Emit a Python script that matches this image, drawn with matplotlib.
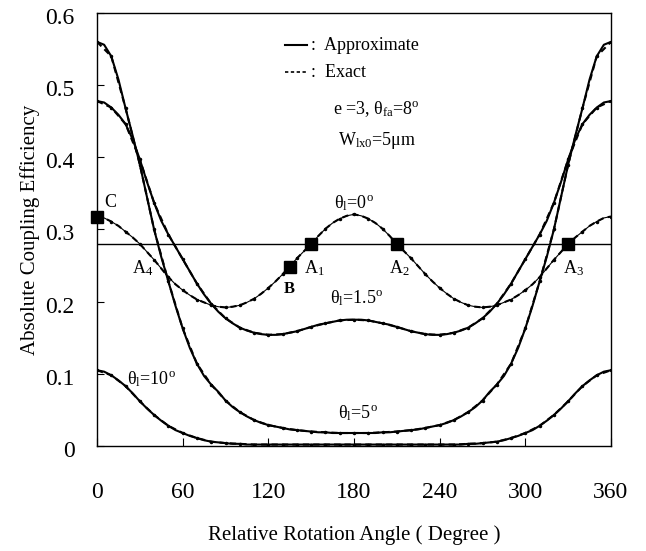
import matplotlib
matplotlib.use("Agg")
import matplotlib.pyplot as plt
from matplotlib.transforms import ScaledTranslation

plt.rcParams['font.family'] = ['Liberation Serif', 'DejaVu Serif']
plt.rcParams['mathtext.fontset'] = 'custom'
plt.rcParams['mathtext.rm'] = 'Liberation Serif'
plt.rcParams['mathtext.it'] = 'Liberation Serif:italic'

# ---- data (5 degree steps) ----
angle = [0, 5, 10, 15, 20, 25, 30, 35, 40, 45, 50, 55, 60, 65, 70, 75, 80, 85, 90,
         95, 100, 105, 110, 115, 120, 125, 130, 135, 140, 145, 150, 155, 160, 165, 170, 175, 180,
         185, 190, 195, 200, 205, 210, 215, 220, 225, 230, 235, 240, 245, 250, 255, 260, 265, 270,
         275, 280, 285, 290, 295, 300, 305, 310, 315, 320, 325, 330, 335, 340, 345, 350, 355, 360]

theta0 = [0.318, 0.316, 0.311, 0.305, 0.297, 0.289, 0.280, 0.269, 0.258, 0.246, 0.234, 0.224, 0.216,
          0.209, 0.203, 0.199, 0.195, 0.193, 0.192,
          0.193, 0.195, 0.199, 0.204, 0.211, 0.219, 0.228, 0.238, 0.249, 0.260, 0.270, 0.280, 0.291,
          0.301, 0.309, 0.315, 0.319, 0.321,
          0.319, 0.315, 0.309, 0.301, 0.291, 0.280, 0.270, 0.260, 0.249, 0.238, 0.228, 0.219, 0.211,
          0.204, 0.199, 0.195, 0.193, 0.192,
          0.193, 0.195, 0.199, 0.203, 0.209, 0.216, 0.224, 0.234, 0.246, 0.258, 0.269, 0.280, 0.289,
          0.297, 0.305, 0.311, 0.316, 0.318]

theta15 = [0.478, 0.476, 0.469, 0.459, 0.446, 0.425, 0.397, 0.366, 0.337, 0.312, 0.293, 0.276, 0.259,
           0.242, 0.225, 0.210, 0.197, 0.186, 0.177,
           0.170, 0.164, 0.160, 0.157, 0.155, 0.154, 0.154, 0.155, 0.157, 0.159, 0.162, 0.165, 0.168,
           0.170, 0.172, 0.174, 0.175, 0.175,
           0.175, 0.174, 0.172, 0.170, 0.168, 0.165, 0.162, 0.159, 0.157, 0.155, 0.154, 0.154, 0.155,
           0.157, 0.160, 0.164, 0.170, 0.177,
           0.186, 0.197, 0.210, 0.225, 0.242, 0.259, 0.276, 0.293, 0.312, 0.337, 0.366, 0.397, 0.425,
           0.446, 0.459, 0.469, 0.476, 0.478]

theta5 = [0.560, 0.556, 0.540, 0.508, 0.468, 0.430, 0.390, 0.345, 0.300, 0.262, 0.228, 0.194, 0.163,
          0.136, 0.114, 0.097, 0.085, 0.075, 0.063,
          0.054, 0.047, 0.041, 0.036, 0.032, 0.029, 0.027, 0.025, 0.023, 0.022, 0.021, 0.020, 0.019,
          0.019, 0.018, 0.018, 0.018, 0.018,
          0.018, 0.018, 0.018, 0.019, 0.019, 0.020, 0.021, 0.022, 0.023, 0.025, 0.027, 0.029, 0.032,
          0.036, 0.041, 0.047, 0.054, 0.063,
          0.075, 0.085, 0.097, 0.114, 0.136, 0.163, 0.194, 0.228, 0.262, 0.300, 0.345, 0.390, 0.430,
          0.468, 0.508, 0.540, 0.556, 0.560]

theta10 = [0.105, 0.103, 0.098, 0.091, 0.083, 0.073, 0.062, 0.052, 0.043, 0.035, 0.028, 0.022, 0.018,
           0.014, 0.011, 0.008, 0.006, 0.005, 0.004,
           0.003, 0.003, 0.002, 0.002, 0.002, 0.002, 0.002, 0.002, 0.002, 0.002, 0.002, 0.002, 0.002,
           0.002, 0.002, 0.002, 0.002, 0.002,
           0.002, 0.002, 0.002, 0.002, 0.002, 0.002, 0.002, 0.002, 0.002, 0.002, 0.002, 0.002, 0.002,
           0.002, 0.002, 0.003, 0.003, 0.004,
           0.005, 0.006, 0.008, 0.011, 0.014, 0.018, 0.022, 0.028, 0.035, 0.043, 0.052, 0.062, 0.073,
           0.083, 0.091, 0.098, 0.103, 0.105]

threshold = 0.28
marker_names = ['C', 'B', 'A1', 'A2', 'A3']
marker_x = [0, 135, 150, 210, 330]
marker_y = [0.318, 0.248, 0.28, 0.28, 0.28]

xticks = [0, 60, 120, 180, 240, 300, 360]
yticks = [0, 0.1, 0.2, 0.3, 0.4, 0.5, 0.6]
ytick_labels = ['0', '0.1', '0.2', '0.3', '0.4', '0.5', '0.6']

# ---- figure ----
fig = plt.figure(figsize=(6.46, 5.51), dpi=100)
ax = fig.add_axes([97 / 646, 1 - 446 / 551, (611 - 97) / 646, (446 - 13) / 551])

for series in (theta5, theta15, theta10):
    ax.plot(angle, series, color='black', lw=1.5, solid_capstyle='round')
    ax.plot(angle[::2], series[::2], color='black', lw=1.5, ls=(0, (3, 2)), marker='.',
            markersize=3)
ax.plot(angle, theta0, color='black', lw=0.8)
ax.plot(angle, theta0, color='black', lw=1.5, ls=(0, (3, 2)))
ax.plot(angle[::2], theta0[::2], ls='none', color='black', marker='.', markersize=3)

ax.axhline(threshold, color='black', lw=1.0)
ax.plot(marker_x, marker_y, ls='none', marker='s', color='black', markersize=8, clip_on=False, zorder=5)

ax.set_xlim(0, 360)
ax.set_ylim(0, 0.6)
ax.set_xticks(xticks)
ax.set_yticks(yticks)
ax.set_yticklabels(ytick_labels)
ax.tick_params(axis='x', direction='in', length=6, pad=26, labelsize=17)
ax.tick_params(axis='y', direction='in', length=5, pad=16, labelsize=17)
for lab in ax.get_yticklabels():
    lab.set_transform(lab.get_transform() + ScaledTranslation(0, -3 / 100, fig.dpi_scale_trans))
for s in ax.spines.values():
    s.set_linewidth(1.0)

ax.set_xlabel('Relative Rotation Angle ( Degree )', fontsize=15, labelpad=16)
ax.set_ylabel('Absolute Coupling Efficiency', fontsize=15, labelpad=4)

# legend-like text
ax.plot([132, 147], [0.555, 0.555], color='black', lw=1.5)
ax.text(150, 0.555, ':  Approximate', fontsize=13, va='center')
ax.plot([132, 147], [0.518, 0.518], color='black', lw=1.2, ls=(0, (2, 1.5)))
ax.text(150, 0.518, ':  Exact', fontsize=13, va='center')

ax.text(196, 0.467, r'e =3, θ$_{\mathrm{fa}}$=8$^{\mathrm{o}}$', fontsize=13, ha='center', va='center')
ax.text(196, 0.423, r'W$_{\mathrm{lx0}}$=5μm', fontsize=13, ha='center', va='center')

ax.text(180, 0.337, r'θ$_{\mathrm{l}}$=0$^{\mathrm{o}}$', fontsize=13, ha='center', va='center')
ax.text(182, 0.205, r'θ$_{\mathrm{l}}$=1.5$^{\mathrm{o}}$', fontsize=13, ha='center', va='center')
ax.text(183, 0.045, r'θ$_{\mathrm{l}}$=5$^{\mathrm{o}}$', fontsize=13, ha='center', va='center')
ax.text(21, 0.093, r'θ$_{\mathrm{l}}$=10$^{\mathrm{o}}$', fontsize=13, ha='left', va='center')

ax.text(32, 0.246, r'A$_{4}$', fontsize=13, ha='center', va='center')
ax.text(152, 0.246, r'A$_{1}$', fontsize=13, ha='center', va='center')
ax.text(212, 0.246, r'A$_{2}$', fontsize=13, ha='center', va='center')
ax.text(334, 0.246, r'A$_{3}$', fontsize=13, ha='center', va='center')
ax.text(135, 0.218, 'B', fontsize=12, ha='center', va='center', fontweight='bold')
ax.text(9, 0.337, 'C', fontsize=13, ha='center', va='center')

fig.savefig('out.png', dpi=100)
